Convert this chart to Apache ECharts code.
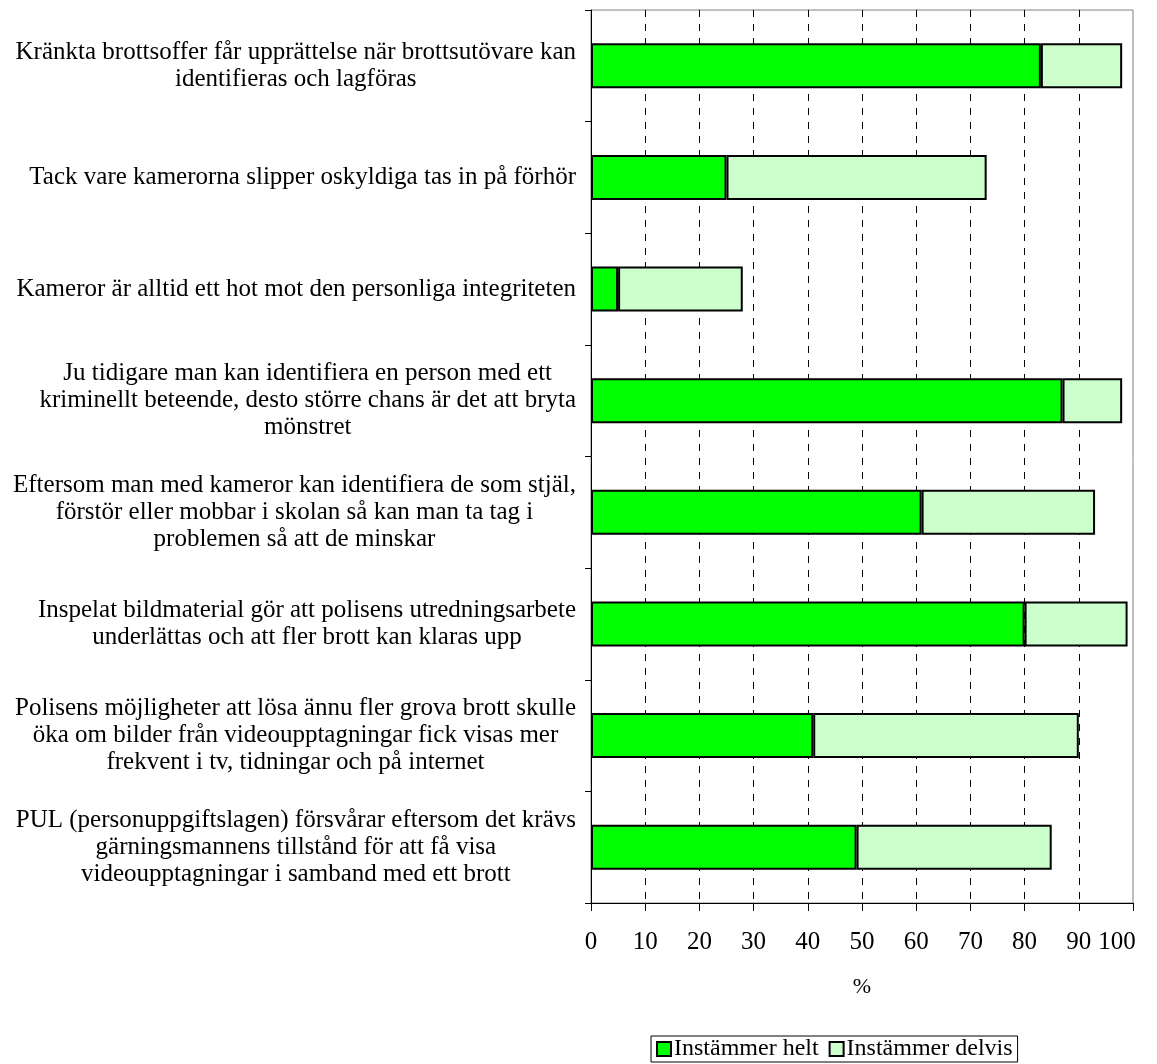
<!DOCTYPE html>
<html>
<head>
<meta charset="utf-8">
<script src="https://cdn.jsdelivr.net/npm/echarts@6/dist/echarts.min.js"></script>
<style>
html,body{margin:0;padding:0;background:#fff;}
#chart{width:1157px;height:1064px;}
</style>
</head>
<body>
<div id="chart"></div>
<script>
const categories = [
  "Kränkta brottsoffer får upprättelse när brottsutövare kan\nidentifieras och lagföras",
  "Tack vare kamerorna slipper oskyldiga tas in på förhör",
  "Kameror är alltid ett hot mot den personliga integriteten",
  "Ju tidigare man kan identifiera en person med ett\nkriminellt beteende, desto större chans är det att bryta\nmönstret",
  "Eftersom man med kameror kan identifiera de som stjäl,\nförstör eller mobbar i skolan så kan man ta tag i\nproblemen så att de minskar",
  "Inspelat bildmaterial gör att polisens utredningsarbete\nunderlättas och att fler brott kan klaras upp",
  "Polisens möjligheter att lösa ännu fler grova brott skulle\nöka om bilder från videoupptagningar fick visas mer\nfrekvent i tv, tidningar och på internet",
  "PUL (personuppgiftslagen) försvårar eftersom det krävs\ngärningsmannens tillstånd för att få visa\nvideoupptagningar i samband med ett brott"
];
const seriesNames = ["Instämmer helt", "Instämmer delvis"];
const helt = [83, 25, 5, 87, 61, 80, 41, 49];
const delvis = [15, 48, 23, 11, 32, 19, 49, 36];
const axisName = "%";

const FONT = "'Liberation Serif', 'Times New Roman', serif";
const chart = echarts.init(document.getElementById('chart'));
chart.setOption({
  animation: false,
  backgroundColor: '#fff',
  grid: {
    left: 591, right: 24, top: 10, bottom: 161,
    show: true, borderColor: '#808080', borderWidth: 1, backgroundColor: 'transparent'
  },
  xAxis: {
    type: 'value', min: 0, max: 100, interval: 10,
    name: axisName, nameLocation: 'middle', nameGap: 73,
    nameTextStyle: { fontFamily: FONT, fontSize: 22, color: '#000' },
    axisLine: { show: true, lineStyle: { color: '#000', width: 1 } },
    axisTick: { show: true, length: 8, lineStyle: { color: '#000' } },
    axisLabel: {
      fontFamily: FONT, fontSize: 25, color: '#000', margin: 27,
      formatter: v => v === 100 ? '{last|' + v + '}' : String(v),
      rich: { last: { fontFamily: FONT, fontSize: 25, color: '#000', padding: [0, 32, 0, 0] } }
    },
    splitLine: {
      show: true,
      lineStyle: { color: '#000', type: [7, 7], width: 1 },
      showMaxLine: false, showMinLine: false
    }
  },
  yAxis: {
    type: 'category', inverse: true, data: categories,
    axisLine: { show: true, lineStyle: { color: '#000', width: 1 } },
    axisTick: { show: true, length: 6, alignWithLabel: false, lineStyle: { color: '#000' } },
    axisLabel: {
      align: 'right', margin: 15, color: '#000',
      fontFamily: FONT, fontSize: 25, lineHeight: 27,
      formatter: v => v.split('\n').map(l => '{c|' + l + '}').join('\n'),
      rich: { c: { align: 'center', fontFamily: FONT, fontSize: 25, lineHeight: 27, color: '#000' } }
    }
  },
  legend: {
    data: seriesNames, left: 651, top: 1036,
    orient: 'horizontal', icon: 'rect', itemWidth: 14, itemHeight: 14, itemGap: 10,
    borderColor: '#000', borderWidth: 1, borderRadius: 0, padding: [1, 5, 1, 5],
    textStyle: { fontFamily: FONT, fontSize: 24, color: '#000', padding: [0, 0, 0, -2] }
  },
  series: [
    {
      name: seriesNames[0], type: 'bar', stack: 't', data: helt, barWidth: 45,
      itemStyle: { color: '#00FF00', borderColor: '#000', borderWidth: 2 }
    },
    {
      name: seriesNames[1], type: 'bar', stack: 't', data: delvis, barWidth: 45,
      itemStyle: { color: '#CCFFCC', borderColor: '#000', borderWidth: 2 }
    }
  ]
});
</script>
</body>
</html>
